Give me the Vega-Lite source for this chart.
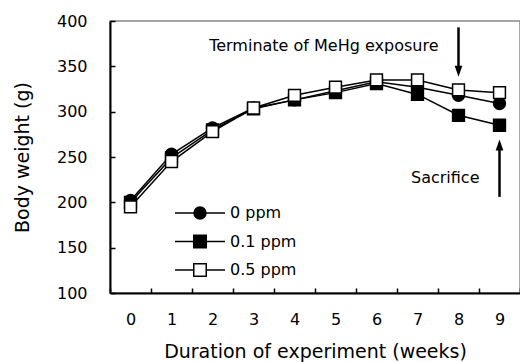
{
  "$schema": "https://vega.github.io/schema/vega-lite/v6.json",
  "width": 410,
  "height": 272,
  "autosize": {"type": "none"},
  "padding": {"left": 110, "top": 21, "right": 0, "bottom": 69},
  "background": "white",
  "config": {
    "font": "DejaVu Sans",
    "view": {"stroke": "#888888", "strokeWidth": 1.5}
  },
  "datasets": {
    "weights": [
      {"week": 0, "group": "0 ppm", "weight": 202},
      {"week": 1, "group": "0 ppm", "weight": 253},
      {"week": 2, "group": "0 ppm", "weight": 282},
      {"week": 3, "group": "0 ppm", "weight": 304},
      {"week": 4, "group": "0 ppm", "weight": 313},
      {"week": 5, "group": "0 ppm", "weight": 323},
      {"week": 6, "group": "0 ppm", "weight": 333},
      {"week": 7, "group": "0 ppm", "weight": 327},
      {"week": 8, "group": "0 ppm", "weight": 318},
      {"week": 9, "group": "0 ppm", "weight": 309},
      {"week": 0, "group": "0.1 ppm", "weight": 200},
      {"week": 1, "group": "0.1 ppm", "weight": 249},
      {"week": 2, "group": "0.1 ppm", "weight": 280},
      {"week": 3, "group": "0.1 ppm", "weight": 303},
      {"week": 4, "group": "0.1 ppm", "weight": 313},
      {"week": 5, "group": "0.1 ppm", "weight": 321},
      {"week": 6, "group": "0.1 ppm", "weight": 331},
      {"week": 7, "group": "0.1 ppm", "weight": 319},
      {"week": 8, "group": "0.1 ppm", "weight": 296},
      {"week": 9, "group": "0.1 ppm", "weight": 285},
      {"week": 0, "group": "0.5 ppm", "weight": 195},
      {"week": 1, "group": "0.5 ppm", "weight": 245},
      {"week": 2, "group": "0.5 ppm", "weight": 278},
      {"week": 3, "group": "0.5 ppm", "weight": 304},
      {"week": 4, "group": "0.5 ppm", "weight": 318},
      {"week": 5, "group": "0.5 ppm", "weight": 327},
      {"week": 6, "group": "0.5 ppm", "weight": 335},
      {"week": 7, "group": "0.5 ppm", "weight": 335},
      {"week": 8, "group": "0.5 ppm", "weight": 324},
      {"week": 9, "group": "0.5 ppm", "weight": 321}
    ],
    "arrows": [
      {"week": 8, "from": 393, "to": 346, "head": 344.5, "dir": "down"},
      {"week": 9, "from": 206, "to": 262, "head": 263.2, "dir": "up"}
    ],
    "notes": [
      {"week": 8, "y": 372, "text": "Terminate of MeHg exposure"},
      {"week": 9, "y": 227, "text": "Sacrifice"}
    ]
  },
  "encoding": {
    "x": {
      "field": "week",
      "type": "ordinal",
      "sort": "ascending",
      "scale": {"type": "band", "paddingInner": 0, "paddingOuter": 0},
      "axis": {
        "title": "Duration of experiment (weeks)",
        "titleFont": "DejaVu Sans",
        "titleFontSize": 19,
        "titleFontWeight": "normal",
        "titleColor": "black",
        "titlePadding": 15,
        "labelAngle": 0,
        "labelFont": "DejaVu Sans",
        "labelFontSize": 16,
        "labelColor": "black",
        "labelPadding": 23,
        "tickBand": "extent",
        "tickSize": -5,
        "tickColor": "black",
        "tickWidth": 1.5,
        "domainColor": "black",
        "domainWidth": 2,
        "grid": false
      }
    },
    "y": {
      "type": "quantitative",
      "scale": {"domain": [100, 400], "zero": false, "nice": false},
      "axis": {
        "title": "Body weight (g)",
        "titleFont": "DejaVu Sans",
        "titleFontSize": 19,
        "titleFontWeight": "normal",
        "titleColor": "black",
        "titlePadding": 24,
        "values": [100, 150, 200, 250, 300, 350, 400],
        "labelFont": "DejaVu Sans",
        "labelFontSize": 16,
        "labelColor": "black",
        "labelPadding": 28,
        "tickSize": -5,
        "tickColor": "black",
        "tickWidth": 1.5,
        "domainColor": "black",
        "domainWidth": 2,
        "grid": false
      }
    }
  },
  "layer": [
    {
      "data": {"name": "weights"},
      "mark": {"type": "line", "stroke": "black", "strokeWidth": 1.5},
      "encoding": {
        "y": {"field": "weight", "type": "quantitative"},
        "detail": {"field": "group", "type": "nominal"}
      }
    },
    {
      "data": {"name": "weights"},
      "mark": {"type": "point", "filled": true, "opacity": 1, "stroke": "black", "strokeWidth": 1.5, "size": 140},
      "encoding": {
        "y": {"field": "weight", "type": "quantitative"},
        "shape": {
          "condition": {"test": "datum.group === '0 ppm'", "value": "circle"},
          "value": "square"
        },
        "fill": {
          "field": "group",
          "type": "nominal",
          "scale": {"domain": ["0 ppm", "0.1 ppm", "0.5 ppm"], "range": ["black", "black", "white"]}
        },
        "order": {"field": "group", "sort": "ascending"}
      }
    },
    {
      "data": {"name": "weights"},
      "transform": [{"filter": "false"}],
      "mark": {"type": "point", "filled": true, "opacity": 1, "stroke": "black", "strokeWidth": 1.5},
      "encoding": {
        "y": {"field": "weight", "type": "quantitative"},
        "shape": {
          "field": "group",
          "type": "nominal",
          "scale": {
            "domain": ["0 ppm", "0.1 ppm", "0.5 ppm"],
            "range": [
              "M-1,0H-0.24M0.24,0H1M-0.24,0A0.24,0.24 0 1,0 0.24,0A0.24,0.24 0 1,0 -0.24,0Z",
              "M-1,0H-0.25M0.25,0H1M-0.25,-0.25H0.25V0.25H-0.25Z",
              "M-1,0H-0.25M0.25,0H1M-0.25,-0.25H0.25V0.25H-0.25Z"
            ]
          },
          "legend": {
            "orient": "none",
            "legendX": 64,
            "legendY": 184,
            "title": null,
            "padding": 0,
            "clipHeight": 16,
            "rowPadding": 12.5,
            "symbolSize": 2500,
            "symbolStrokeColor": "black",
            "symbolStrokeWidth": 1.5,
            "labelFont": "DejaVu Sans",
            "labelFontSize": 16,
            "labelColor": "black",
            "labelOffset": 4
          }
        },
        "fill": {
          "field": "group",
          "type": "nominal"
        }
      }
    },
    {
      "data": {"name": "arrows"},
      "mark": {"type": "rule", "stroke": "black", "strokeWidth": 2.5},
      "encoding": {
        "y": {"field": "from", "type": "quantitative"},
        "y2": {"field": "to"}
      }
    },
    {
      "data": {"name": "arrows"},
      "transform": [{"filter": "datum.dir === 'down'"}],
      "mark": {"type": "point", "filled": true, "opacity": 1, "fill": "black", "strokeWidth": 0, "size": 121, "shape": "M-0.7,-1L0.7,-1L0,1Z"},
      "encoding": {
        "y": {"field": "head", "type": "quantitative"}
      }
    },
    {
      "data": {"name": "arrows"},
      "transform": [{"filter": "datum.dir === 'up'"}],
      "mark": {"type": "point", "filled": true, "opacity": 1, "fill": "black", "strokeWidth": 0, "size": 121, "shape": "M-0.7,1L0.7,1L0,-1Z"},
      "encoding": {
        "y": {"field": "head", "type": "quantitative"}
      }
    },
    {
      "data": {"name": "notes"},
      "mark": {"type": "text", "align": "right", "baseline": "middle", "dx": -20, "font": "DejaVu Sans", "fontSize": 16, "color": "black"},
      "encoding": {
        "y": {"field": "y", "type": "quantitative"},
        "text": {"field": "text"}
      }
    }
  ]
}
